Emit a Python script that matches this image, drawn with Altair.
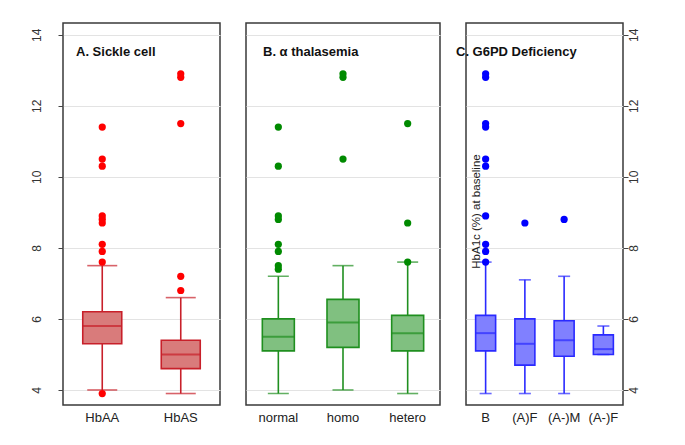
import altair as alt
import pandas as pd

# ---------------- data ----------------
A_cats = ["HbAA", "HbAS"]
A_lo = [4.0, 3.9]
A_q1 = [5.3, 4.6]
A_med = [5.8, 5.0]
A_q3 = [6.2, 5.4]
A_hi = [7.5, 6.6]
A_out = {
    "HbAA": [3.9, 7.6, 7.9, 8.1, 8.7, 8.8, 8.9, 10.3, 10.5, 11.4],
    "HbAS": [6.8, 7.2, 11.5, 12.8, 12.9],
}

B_cats = ["normal", "homo", "hetero"]
B_lo = [3.9, 4.0, 3.9]
B_q1 = [5.1, 5.2, 5.1]
B_med = [5.5, 5.9, 5.6]
B_q3 = [6.0, 6.55, 6.1]
B_hi = [7.2, 7.5, 7.6]
B_out = {
    "normal": [7.4, 7.5, 7.9, 8.1, 8.8, 8.9, 10.3, 11.4],
    "homo": [10.5, 12.8, 12.9],
    "hetero": [7.6, 8.7, 11.5],
}

C_cats = ["B", "(A)F", "(A-)M", "(A-)F"]
C_lo = [3.9, 3.9, 3.9, 5.0]
C_q1 = [5.1, 4.7, 4.95, 5.0]
C_med = [5.6, 5.3, 5.4, 5.15]
C_q3 = [6.1, 6.0, 5.95, 5.55]
C_hi = [7.6, 7.1, 7.2, 5.8]
C_out = {
    "B": [7.6, 7.9, 8.1, 8.9, 10.3, 10.5, 11.4, 11.5, 12.8, 12.9],
    "(A)F": [8.7],
    "(A-)M": [8.8],
    "(A-)F": [],
}

Y_DOMAIN = [3.577, 14.33]
Y_TICKS = [4, 6, 8, 10, 12, 14]
FONT = "Liberation Sans"
H = 382


def panel(cats, lo, q1, med, q3, hi, outs, width, box_w, cap_w,
          fill, stroke, point_col, title, title_dx, axis_kind):
    stats = pd.DataFrame({"cat": cats, "lo": lo, "q1": q1, "med": med,
                          "q3": q3, "hi": hi})
    pts = pd.DataFrame([{"cat": c, "v": v} for c in cats for v in outs[c]])

    xscale = alt.Scale(type="band", domain=cats, paddingInner=0, paddingOuter=0)
    xaxis = alt.Axis(title=None, ticks=False, domain=False, labelAngle=0,
                     labelFontSize=13, labelColor="#222", labelPadding=6,
                     labelFont=FONT)
    yscale = alt.Scale(domain=Y_DOMAIN, nice=False, zero=False)

    common = dict(values=Y_TICKS, grid=True, gridColor="#e3e3e3",
                  tickSize=5, tickColor="#444", labelAngle=270,
                  labelAlign="center", labelBaseline="middle",
                  labelFontSize=12, labelColor="#333", labelFont=FONT,
                  domain=False)
    if axis_kind == "left":
        yaxis = alt.Axis(orient="left", labelPadding=22, title=None, **common)
    elif axis_kind == "right":
        yaxis = alt.Axis(orient="right", labelPadding=5,
                         title="HbA1c (%) at baseline", titleAngle=270,
                         titleX=-147, titleY=188, titleAlign="center",
                         titleBaseline="middle", titleFontSize=11.5,
                         titleFontWeight="normal", titleFont=FONT,
                         titleColor="#222", **common)
    else:
        yaxis = alt.Axis(values=Y_TICKS, grid=True, gridColor="#e3e3e3",
                         ticks=False, labels=False, domain=False, title=None)

    x = alt.X("cat:N", scale=xscale, axis=xaxis, sort=cats)

    whisk = alt.Chart(stats).mark_rule(color=stroke, strokeWidth=1.6).encode(
        x=x, y=alt.Y("lo:Q", scale=yscale, axis=yaxis), y2="hi:Q")
    box = alt.Chart(stats).mark_bar(size=box_w, fill=fill, stroke=stroke,
                                    strokeWidth=1.6).encode(
        x=x, y=alt.Y("q1:Q", scale=yscale), y2="q3:Q")
    med_t = alt.Chart(stats).mark_tick(size=box_w, thickness=2,
                                       color=stroke).encode(
        x=x, y=alt.Y("med:Q", scale=yscale))
    cap_lo = alt.Chart(stats).mark_tick(size=cap_w, thickness=1.6,
                                        color=stroke).encode(
        x=x, y=alt.Y("lo:Q", scale=yscale))
    cap_hi = alt.Chart(stats).mark_tick(size=cap_w, thickness=1.6,
                                        color=stroke).encode(
        x=x, y=alt.Y("hi:Q", scale=yscale))
    layers = [whisk, box, med_t, cap_lo, cap_hi]
    if len(pts):
        dots = alt.Chart(pts).mark_circle(size=52, color=point_col,
                                          opacity=1).encode(
            x=x, y=alt.Y("v:Q", scale=yscale))
        layers.append(dots)

    return alt.layer(*layers).properties(
        width=width, height=H,
        view=alt.ViewBackground(stroke="#3a3a3a", strokeWidth=1.5,
                                fill="white"),
        title=alt.TitleParams(title, anchor="start", frame="group",
                              dx=title_dx, dy=36, offset=0, fontSize=13,
                              fontWeight="bold", font=FONT, color="#111"),
    )


pA = panel(A_cats, A_lo, A_q1, A_med, A_q3, A_hi, A_out, 157, 39, 30,
           "#d97b7b", "#c8202a", "#ff0000", "A. Sickle cell", 13, "left")
pB = panel(B_cats, B_lo, B_q1, B_med, B_q3, B_hi, B_out, 194, 32, 21,
           "#80c080", "#1f8f1f", "#008a00", "B. \u03b1 thalasemia", 17, "none")
pC = panel(C_cats, C_lo, C_q1, C_med, C_q3, C_hi, C_out, 157, 20, 12,
           "#8080ff", "#2a2aff", "#0000ff", "C. G6PD Deficiency", -10, "right")

chart = alt.hconcat(pA, pB, pC, spacing=26, bounds="flush").resolve_scale(
    x="independent").configure_view(
    stroke="#3a3a3a", strokeWidth=1.5).configure(
    background="white").properties(
    padding={"left": 21, "top": 14, "right": 5, "bottom": 5})

chart.save("out.html", embed_options={"renderer": "svg", "actions": False})
